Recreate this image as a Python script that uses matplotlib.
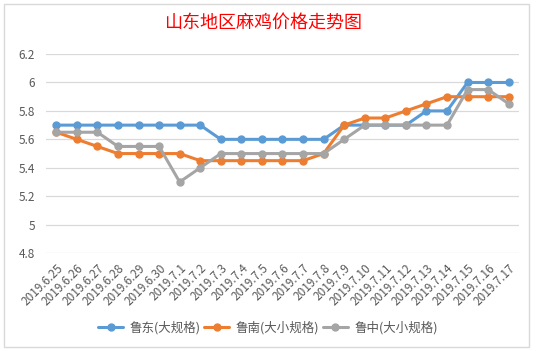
import matplotlib
matplotlib.use("Agg")
import matplotlib.pyplot as plt
from matplotlib.patches import Rectangle

plt.rcParams['font.family'] = ['Noto Sans CJK SC', 'DejaVu Sans']

dates = ['2019.6.25', '2019.6.26', '2019.6.27', '2019.6.28', '2019.6.29', '2019.6.30',
         '2019.7.1', '2019.7.2', '2019.7.3', '2019.7.4', '2019.7.5', '2019.7.6',
         '2019.7.7', '2019.7.8', '2019.7.9', '2019.7.10', '2019.7.11', '2019.7.12',
         '2019.7.13', '2019.7.14', '2019.7.15', '2019.7.16', '2019.7.17']

ludong = [5.7, 5.7, 5.7, 5.7, 5.7, 5.7, 5.7, 5.7, 5.6, 5.6, 5.6, 5.6,
          5.6, 5.6, 5.7, 5.7, 5.7, 5.7, 5.8, 5.8, 6.0, 6.0, 6.0]
lunan = [5.65, 5.6, 5.55, 5.5, 5.5, 5.5, 5.5, 5.45, 5.45, 5.45, 5.45, 5.45,
         5.45, 5.5, 5.7, 5.75, 5.75, 5.8, 5.85, 5.9, 5.9, 5.9, 5.9]
luzhong = [5.65, 5.65, 5.65, 5.55, 5.55, 5.55, 5.3, 5.4, 5.5, 5.5, 5.5, 5.5,
           5.5, 5.5, 5.6, 5.7, 5.7, 5.7, 5.7, 5.7, 5.95, 5.95, 5.85]

names = ['鲁东(大规格)', '鲁南(大小规格)', '鲁中(大小规格)']
colors = ['#5B9BD5', '#ED7D31', '#A5A5A5']
yticks = [4.8, 5, 5.2, 5.4, 5.6, 5.8, 6, 6.2]

fig = plt.figure(figsize=(5.36, 3.51), dpi=100)
ax = fig.add_axes([0.0858, 0.279, 0.8825, 0.567])

x = range(len(dates))
for vals, name, c in zip([ludong, lunan, luzhong], names, colors):
    ax.plot(x, vals, color=c, lw=2.2, marker='o', ms=5, label=name,
            solid_capstyle='round', solid_joinstyle='round')

ax.set_xlim(-0.5, len(dates) - 0.5)
ax.set_ylim(4.8, 6.2)
ax.set_yticks(yticks)
ax.set_yticklabels([('%g' % v) for v in yticks])
ax.set_xticks(list(x))
ax.set_xticklabels(dates, rotation=45, ha='right', rotation_mode='anchor')
ax.tick_params(axis='both', length=0, labelsize=8.5, labelcolor='#595959')
ax.tick_params(axis='x', pad=6)
ax.tick_params(axis='y', pad=8)
ax.yaxis.grid(True, color='#D9D9D9', lw=0.9)
ax.set_axisbelow(True)
for s in ax.spines.values():
    s.set_visible(False)

fig.text(0.49, 0.935, '山东地区麻鸡价格走势图', color='#FF0000', fontsize=13,
         fontweight='medium', ha='center', va='center')

leg = fig.legend(loc='center', bbox_to_anchor=(0.5, 0.066), ncol=3, frameon=False,
                 fontsize=9, handlelength=2.0, columnspacing=0.3, handletextpad=0.5)
for t in leg.get_texts():
    t.set_color('#595959')

# chart area border
fig.patches.append(Rectangle((0.007, 0.011), 0.98, 0.977, transform=fig.transFigure,
                             fill=False, ec='#D9D9D9', lw=1))

fig.savefig('out.png', dpi=100)
